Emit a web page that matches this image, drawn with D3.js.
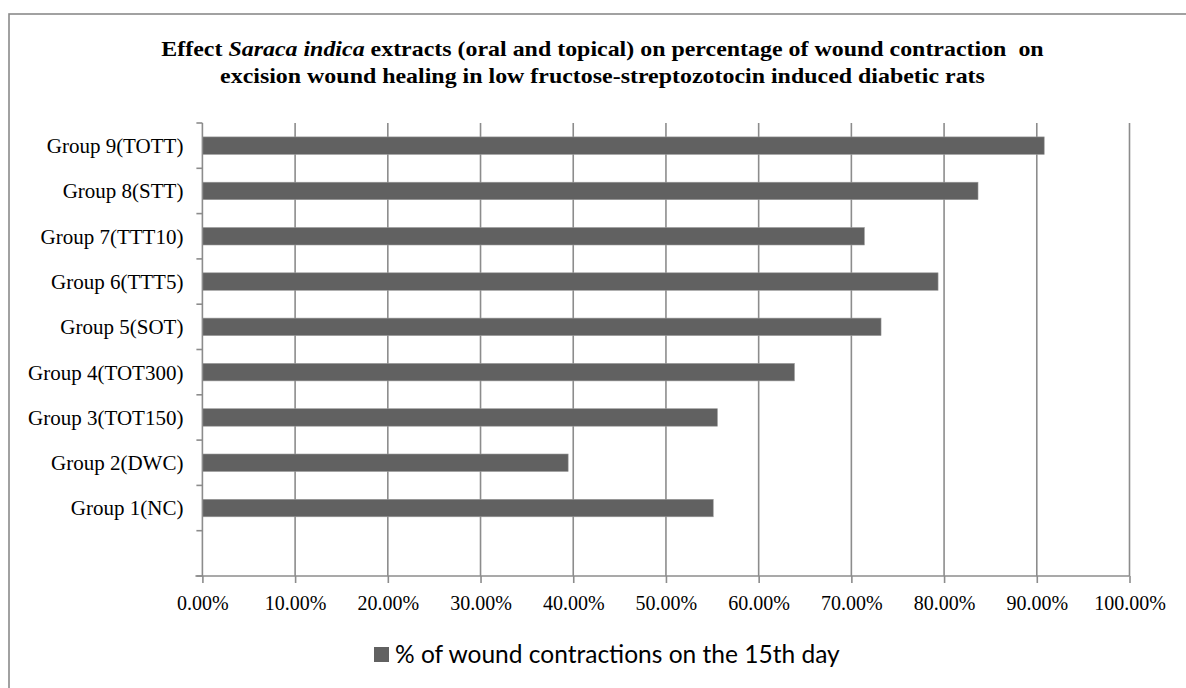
<!DOCTYPE html>
<html>
<head>
<meta charset="utf-8">
<script src="https://cdn.jsdelivr.net/npm/d3@7"></script>
<style>
  html, body { margin: 0; padding: 0; background: #ffffff; }
  svg { display: block; }
  .serif { font-family: "Liberation Serif", "Times New Roman", serif; fill: #000; }
</style>
</head>
<body>
<svg id="chart" width="1186" height="688"></svg>
<script>
// Wound contraction (%) on day 15, one bar per treatment group
const groups = [
  "Group 1(NC)", "Group 2(DWC)", "Group 3(TOT150)", "Group 4(TOT300)",
  "Group 5(SOT)", "Group 6(TTT5)", "Group 7(TTT10)", "Group 8(STT)", "Group 9(TOTT)"
];
const contraction = [0.551, 0.3945, 0.5555, 0.6386, 0.732, 0.7935, 0.714, 0.8366, 0.908];
const xTicks = [0, 0.1, 0.2, 0.3, 0.4, 0.5, 0.6, 0.7, 0.8, 0.9, 1.0];
const seriesName = "% of wound contractions on the 15th day";

const svg = d3.select("#chart");
const barColor = "#616161";
const gridColor = "#8c8c8c";

// outer chart frame
svg.append("rect")
  .attr("x", 9).attr("y", 14).attr("width", 1190).attr("height", 700)
  .attr("fill", "#fff").attr("stroke", "#8a8a8a").attr("stroke-width", 1.6);

// title (two lines, species name in italics), widened to the chart's title width
const titleCx = 602.5;
const titleG = svg.append("g");
const title = titleG.append("text").attr("class", "serif")
  .attr("text-anchor", "middle").attr("font-weight", "bold").attr("font-size", 21)
  .style("white-space", "pre");
const l1 = title.append("tspan").attr("x", titleCx).attr("y", 56);
l1.append("tspan").text("Effect ");
l1.append("tspan").attr("font-style", "italic").text("Saraca indica");
l1.append("tspan").text(" extracts (oral and topical) on percentage of wound contraction  on");
title.append("tspan").attr("x", titleCx).attr("y", 83)
  .text("excision wound healing in low fructose-streptozotocin induced diabetic rats");
const tw = title.node().getBBox().width;
const sx = 883 / tw;
titleG.attr("transform", `translate(${titleCx},0) scale(${sx},1) translate(${-titleCx},0)`);

const plot = { left: 202.4, right: 1129.5, top: 123, bottom: 576 };

const x = d3.scaleLinear().domain([0, 1]).range([plot.left, plot.right]);
// top-to-bottom order, with a trailing blank category
const yDomain = groups.slice().reverse().concat([""]);
const y = d3.scaleBand().domain(yDomain)
  .range([plot.top, plot.bottom])
  .paddingInner(0.614).paddingOuter(0.307);

// vertical gridlines
svg.append("g").selectAll("line")
  .data(xTicks.slice(1))
  .join("line")
  .attr("x1", d => x(d)).attr("x2", d => x(d))
  .attr("y1", plot.top).attr("y2", plot.bottom)
  .attr("stroke", gridColor).attr("stroke-width", 1.6);

// bars
svg.append("g").selectAll("rect")
  .data(groups.map((g, i) => ({ g, v: contraction[i] })))
  .join("rect")
  .attr("x", x(0))
  .attr("y", d => y(d.g))
  .attr("width", d => x(d.v) - x(0))
  .attr("height", y.bandwidth())
  .attr("fill", barColor)
  .attr("stroke", "#9a9a9a").attr("stroke-width", 0.6);

// x axis
const xAxis = d3.axisBottom(x).tickValues(xTicks)
  .tickFormat(d => (d * 100).toFixed(2) + "%")
  .tickSizeInner(7).tickSizeOuter(0).tickPadding(13);
const gx = svg.append("g").attr("transform", `translate(0,${plot.bottom})`).call(xAxis);
gx.select(".domain").attr("stroke", gridColor).attr("stroke-width", 1.6)
  .attr("d", `M${plot.left - 7},0H${plot.right}`);
gx.selectAll(".tick line").attr("stroke", gridColor).attr("stroke-width", 1.6);
gx.selectAll(".tick text")
  .attr("font-family", "Liberation Serif, Times New Roman, serif")
  .attr("font-size", 20).attr("fill", "#000");

// y axis: ticks on band boundaries
const step = y.step();
const bounds = d3.range(yDomain.length + 1).map(i => plot.top + i * step);
const gy = svg.append("g");
gy.append("line")
  .attr("x1", x(0)).attr("x2", x(0)).attr("y1", plot.top).attr("y2", plot.bottom)
  .attr("stroke", gridColor).attr("stroke-width", 1.6);
gy.selectAll("line.tk").data(bounds).join("line").attr("class", "tk")
  .attr("x1", x(0) - 6).attr("x2", x(0)).attr("y1", d => d).attr("y2", d => d)
  .attr("stroke", gridColor).attr("stroke-width", 1.6);
gy.selectAll("text").data(groups).join("text").attr("class", "serif")
  .attr("x", x(0) - 19)
  .attr("y", d => y(d) + y.bandwidth() / 2)
  .attr("dy", "0.35em")
  .attr("text-anchor", "end")
  .attr("font-size", 21)
  .text(d => d);

// legend
const lg = svg.append("g");
lg.append("rect").attr("x", 374).attr("y", 647).attr("width", 15).attr("height", 15)
  .attr("fill", barColor);
const lt = lg.append("text").attr("x", 395).attr("y", 663)
  .attr("font-family", "Lato, 'Open Sans', sans-serif")
  .attr("font-size", 24).attr("fill", "#000").text(seriesName);
const w = lt.node().getComputedTextLength();
lt.attr("font-size", 24 * 445 / w);
</script>
</body>
</html>
